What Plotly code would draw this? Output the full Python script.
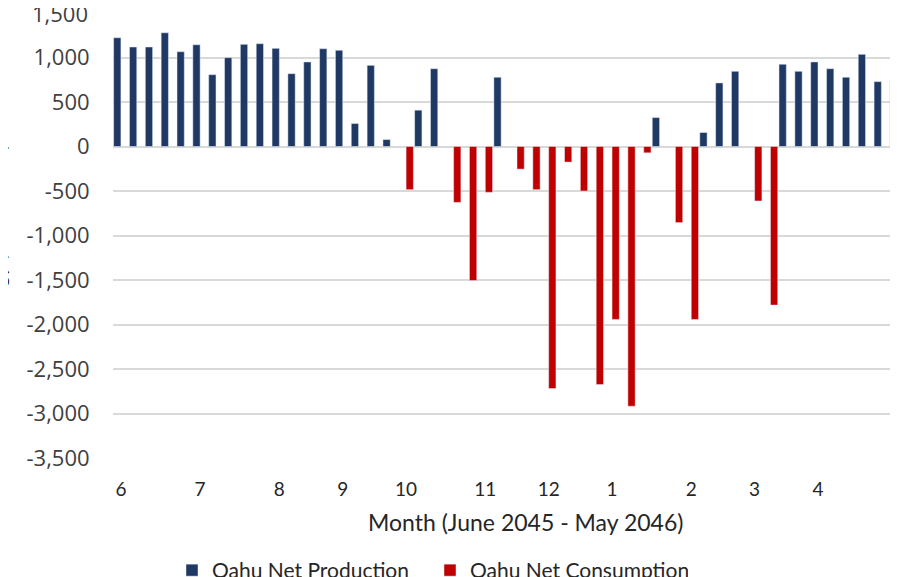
import plotly.graph_objects as go

# weekly values, June 2045 - May 2046 (MWh)
production = [1222, 1118, 1118, 1278, 1065, 1143, 807, 998, 1148, 1155,
              1103, 818, 950, 1099, 1081, 258, 912, 78, None, 408,
              874, None, None, None, 778, None, None, None, None, None,
              None, None, None, None, 325, None, None, 157, 714, 845,
              None, None, 924, 845, 950, 874, 778, 1036, 729, 744]
consumption = [None, None, None, None, None, None, None, None, None, None,
               None, None, None, None, None, None, None, None, -485, None,
               None, -628, -1506, -515, None, -254, -485, -2720, -175, -500,
               -2675, -1943, -2918, -71, None, -855, -1943, None, None, None,
               -612, -1782, None, None, None, None, None, None, None, None]
weeks = list(range(len(production)))

month_weeks = [0, 5, 10, 14, 18, 23, 27, 31, 36, 40, 44, 49]
month_labels = ['6', '7', '8', '9', '10', '11', '12', '1', '2', '3', '4', '5']
y_ticks = [-3500, -3000, -2500, -2000, -1500, -1000, -500, 0, 500, 1000]

fig = go.Figure()
fig.add_trace(go.Bar(x=weeks, y=production, name='Oahu Net Production',
                     marker_color='#1f3864'))
fig.add_trace(go.Bar(x=weeks, y=consumption, name='Oahu Net Consumption',
                     marker_color='#c00000'))

tick_font = dict(family='Open Sans', size=22, color='#404040')
cal_font = dict(family='Lato', size=19, color='#262626')

# the page body adds an 8px offset, so margins are set 8px smaller on the top/left
fig.update_layout(
    width=898, height=577,
    margin=dict(l=105, r=8, t=5, b=127),
    plot_bgcolor='white', paper_bgcolor='white',
    barmode='group', bargap=0.08, bargroupgap=0,
    showlegend=True,
    legend=dict(orientation='h', xref='container', yref='container',
                x=164 / 898, xanchor='left', y=1 - 542 / 577, yanchor='top',
                font=dict(family='Lato', size=21, color='#262626'),
                entrywidth=213, traceorder='normal'),
    xaxis=dict(range=[-0.5, 49.05], tickmode='array', tickvals=month_weeks,
               ticktext=month_labels, showgrid=False, zeroline=False,
               ticks='outside', ticklen=14, tickcolor='rgba(0,0,0,0)',
               tickfont=cal_font, showline=False, automargin=False),
    yaxis=dict(range=[-3500, 1500], tickmode='array', tickvals=y_ticks,
               ticktext=[f'{v:,}' for v in y_ticks],
               showgrid=True, gridcolor='#d9d9d9', gridwidth=1.5,
               zeroline=True, zerolinecolor='#d9d9d9', zerolinewidth=1.5,
               ticks='outside', ticklen=18, tickcolor='rgba(0,0,0,0)',
               tickfont=tick_font, showline=False, automargin=False),
)

# top tick label without a gridline (as in the original)
fig.add_annotation(text='1,500', xref='paper', yref='y', x=-0.0293, y=1500,
                   xanchor='right', yanchor='middle', showarrow=False,
                   font=tick_font)
fig.add_annotation(text='Month (June 2045 - May 2046)', xref='paper', yref='paper',
                   x=0.525, y=-0.144, xanchor='center', yanchor='middle',
                   showarrow=False, font=dict(family='Lato', size=23, color='#262626'))
fig.add_annotation(text='Energy (MWh/week)', xref='paper', yref='paper',
                   x=-0.1465, y=0.5, xanchor='center', yanchor='middle', textangle=-90,
                   showarrow=False, font=dict(family='Lato', size=20, color='#262626'))

fig.write_html('out.html')
